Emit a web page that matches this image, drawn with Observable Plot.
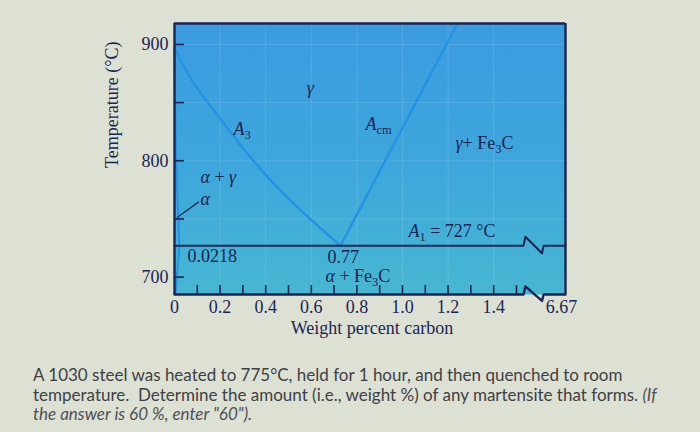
<!DOCTYPE html>
<html><head><meta charset="utf-8">
<script src="https://cdn.jsdelivr.net/npm/d3@7"></script>
<script src="https://cdn.jsdelivr.net/npm/@observablehq/plot@0.6"></script>
<style>
html,body{margin:0;padding:0;background:#dde1d4;}
#wrap{position:relative;width:700px;height:432px;overflow:hidden;background:#dde1d4;}
#q{position:absolute;left:33px;top:365px;font-family:Lato,sans-serif;font-size:17px;line-height:19.7px;color:#3d4045;white-space:nowrap;}
#q i{color:#4d5055;}
</style></head><body>
<div id="wrap"><div id="chart"></div>
<div id="q">A 1030 steel was heated to 775°C, held for 1 hour, and then quenched to room<br>temperature.&nbsp; Determine the amount (i.e., weight %) of any martensite that forms. <i>(If</i><br><i>the answer is 60 %, enter "60").</i></div>
</div>
<script>
// ---- data (weight % carbon, temperature °C) ----
const xMax = 1.715;            // right edge of the (broken) composition axis
const tMin = 685, tMax = 918;
const a3Carbon = [0, 0.070, 0.158, 0.268, 0.390, 0.553, 0.728];
const a3Temp   = [897, 871, 847, 819, 790, 757.5, 727];
const acmCarbon = [0.728, 1.241];
const acmTemp   = [727, 918];
const alphaCarbon = [0, 0.008, 0.0218];
const alphaTemp   = [897, 800, 727];
const solvusCarbon = [0.0218, 0.012, 0.005];
const solvusTemp   = [727, 705, 685];
const isoCarbon = [0, 1.531, 1.539, 1.612, 1.619, xMax];
const isoTemp   = [727, 727, 734.7, 720.4, 727, 727];
const baseCarbon = [0, 1.531, 1.539, 1.612, 1.619, xMax];
const baseTemp   = [685, 685, 692, 679.5, 685, 685];
const leaderCarbon = [0.013, 0.105];
const leaderTemp   = [751.5, 764.4];
const yTickVals = [700, 750, 800, 850, 900];
const yLabelVals = [700, 800, 900];
const xTickVals = [0.1, 0.2, 0.3, 0.4, 0.5, 0.6, 0.7, 0.8, 0.9, 1.0, 1.1, 1.2, 1.3, 1.4, 1.5];
const xLabelPos  = [0, 0.2, 0.4, 0.6, 0.8, 1.0, 1.2, 1.4, 1.697];
const xLabelText = ["0", "0.2", "0.4", "0.6", "0.8", "1.0", "1.2", "1.4", "6.67"];
const regionText   = ["*γ*", "*A*_{3}", "*A*_{cm}", "*γ*+ Fe_{3}C", "*α* + *γ*", "*α*", "0.0218", "0.77", "*α* + Fe_{3}C", "*A*_{1} = 727 °C"];
const regionCarbon = [0.580, 0.259, 0.838, 1.232, 0.114, 0.114, 0.057, 0.671, 0.662, 1.026];
const regionTemp   = [862, 827, 831.3, 815, 785.8, 767, 717.5, 717, 700.5, 739.5];

const pts = (xs, ys) => xs.map((x, i) => ({x, y: ys[i]}));
const navy = "#1b2552", blue = "#2393e3";
const serif = "'Liberation Serif', 'Times New Roman', serif";
const labelMap = new Map(xLabelPos.map((p, i) => [p, xLabelText[i]]));
const labels = regionText.map((t, i) => ({t, x: regionCarbon[i], y: regionTemp[i]}));

const svg = Plot.plot({
  width: 700, height: 345,
  marginLeft: 174, marginRight: 135, marginTop: 23, marginBottom: 51,
  style: {fontFamily: serif, fontSize: "18px", color: navy, background: "transparent", overflow: "visible"},
  x: {domain: [0, xMax], axis: null},
  y: {domain: [tMin, tMax], axis: null},
  marks: [
    Plot.frame({fill: "url(#bgGrad)", stroke: "none"}),
    Plot.gridX([0.2, 0.4, 0.6, 0.8, 1.0, 1.2, 1.4], {stroke: "white", strokeOpacity: 0.12}),
    Plot.gridY([750, 800, 850, 900], {stroke: "white", strokeOpacity: 0.12}),
    Plot.line(pts(a3Carbon, a3Temp), {x: "x", y: "y", stroke: blue, strokeWidth: 2.4, curve: "natural"}),
    Plot.line(pts(acmCarbon, acmTemp), {x: "x", y: "y", stroke: blue, strokeWidth: 2.4}),
    Plot.line(pts(alphaCarbon, alphaTemp), {x: "x", y: "y", stroke: blue, strokeWidth: 2, curve: "catmull-rom"}),
    Plot.line(pts(solvusCarbon, solvusTemp), {x: "x", y: "y", stroke: blue, strokeWidth: 2, curve: "catmull-rom"}),
    Plot.line(pts(leaderCarbon, leaderTemp), {x: "x", y: "y", stroke: navy, strokeWidth: 1.3}),
    Plot.line(pts(isoCarbon, isoTemp), {x: "x", y: "y", stroke: navy, strokeWidth: 2}),
    Plot.ruleX([0, xMax], {stroke: navy, strokeWidth: 2.4}),
    Plot.ruleY([tMax], {stroke: navy, strokeWidth: 2.4}),
    Plot.line(pts(baseCarbon, baseTemp), {x: "x", y: "y", stroke: navy, strokeWidth: 2.4}),
    Plot.tickY(yTickVals, {y: d => d, insetRight: 381, stroke: navy, strokeWidth: 1.6}),
    Plot.tickX(xTickVals, {x: d => d, insetTop: 262, stroke: navy, strokeWidth: 1.6}),
    Plot.axisY(yLabelVals, {anchor: "left", tickSize: 0, tickPadding: 6, label: null, fill: navy, fontSize: 18, fontFamily: serif}),
    Plot.axisX(xLabelPos, {anchor: "bottom", tickSize: 0, tickPadding: 6, label: null, fill: navy, fontSize: 18, fontFamily: serif, tickFormat: d => labelMap.get(d)}),
    Plot.text(["Temperature (°C)"], {frameAnchor: "left", rotate: -90, dx: -62, dy: 9, fill: navy, fontSize: 18, fontFamily: serif}),
    Plot.text(["Weight percent carbon"], {frameAnchor: "bottom", dy: 39, dx: 2, fill: navy, fontSize: 18, fontFamily: serif}),
    Plot.text(labels, {x: "x", y: "y", text: "t", textAnchor: "start", fill: navy, fontSize: 18, fontFamily: serif})
  ]
});

// gradient for the plot background
const ns = "http://www.w3.org/2000/svg";
const defs = document.createElementNS(ns, "defs");
defs.innerHTML = '<linearGradient id="bgGrad" x1="0" y1="0" x2="0" y2="1">' +
  '<stop offset="0" stop-color="#3b9be0"/><stop offset="0.55" stop-color="#3ea7dc"/>' +
  '<stop offset="1" stop-color="#47b7d2"/></linearGradient>';
svg.insertBefore(defs, svg.firstChild);

// simple markup: *italic*, _{subscript}
svg.querySelectorAll("text").forEach(t => {
  const s = t.textContent;
  if (!/[*_]/.test(s)) return;
  t.textContent = "";
  let shifted = false;
  for (const p of s.split(/(_\{[^}]*\}|\*[^*]*\*)/)) {
    if (!p) continue;
    const ts = document.createElementNS(ns, "tspan");
    if (p.startsWith("_{")) {
      ts.textContent = p.slice(2, -1);
      ts.setAttribute("dy", "4"); ts.setAttribute("font-size", "12.5");
      shifted = true;
    } else {
      if (p.startsWith("*")) { ts.textContent = p.slice(1, -1); ts.setAttribute("font-style", "italic"); }
      else ts.textContent = p;
      if (shifted) { ts.setAttribute("dy", "-4"); shifted = false; }
    }
    t.appendChild(ts);
  }
});
document.getElementById("chart").appendChild(svg);
</script>
</body></html>
